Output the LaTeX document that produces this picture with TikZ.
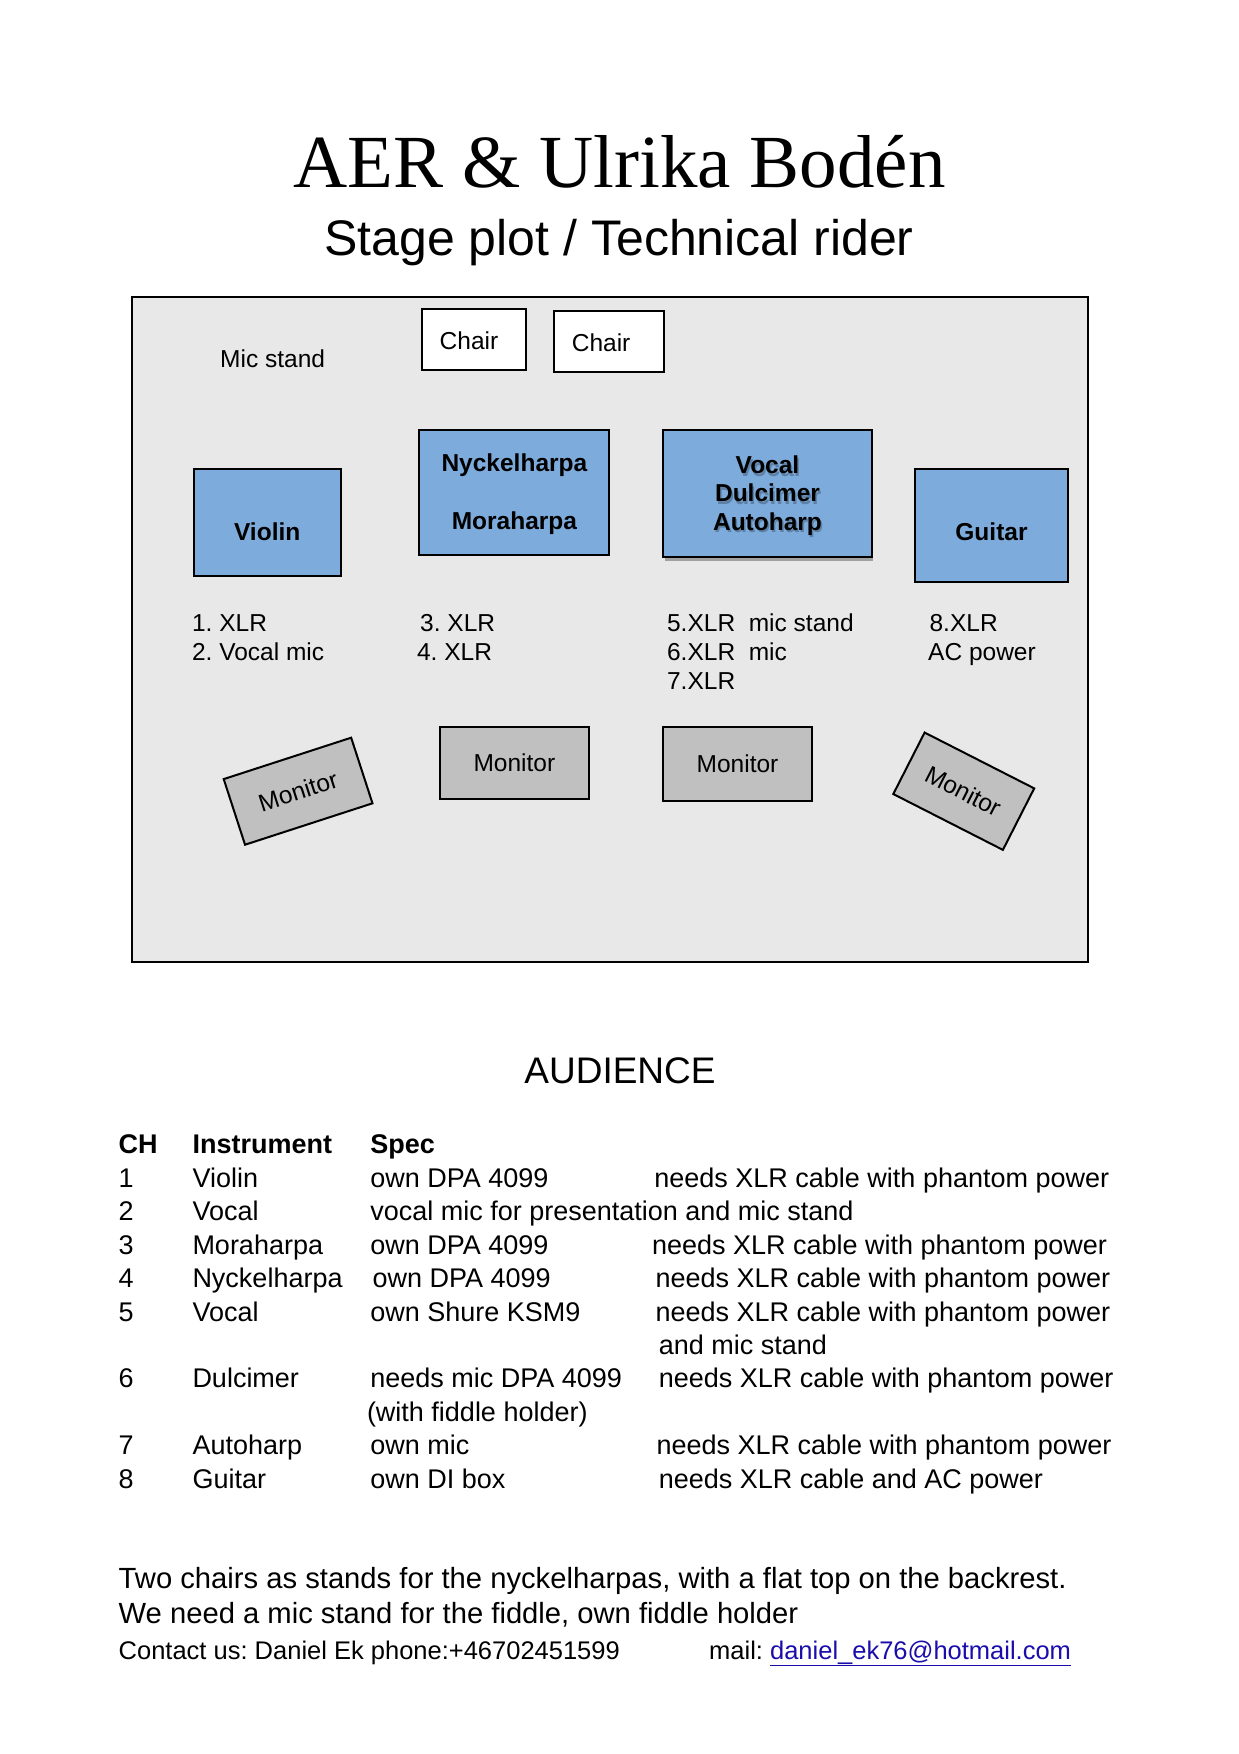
\documentclass[tikz,border=0pt]{standalone}
\usepackage{fontspec}
\setmainfont{Liberation Sans}
\newfontfamily\titlefont{Liberation Serif}
\usetikzlibrary{shadows}
\frenchspacing
\definecolor{stagegray}{RGB}{232,232,232}
\definecolor{mongray}{RGB}{192,192,192}
\definecolor{instblue}{RGB}{125,171,219}
\definecolor{linkblue}{RGB}{26,13,171}
\tikzset{
  txt/.style={inner sep=0pt, anchor=base west},
  ctxt/.style={inner sep=0pt, anchor=base},
  lbl/.style={txt, font=\fontsize{24.5}{29}\selectfont},
  blbl/.style={ctxt, font=\fontsize{24.5}{29}\selectfont\bfseries},
  tbl/.style={txt, font=\fontsize{27}{32}\selectfont},
  tblhead/.style={txt, font=\fontsize{27}{32}\selectfont\bfseries},
  foot/.style={txt, font=\fontsize{29.2}{34}\selectfont},
  contact/.style={txt, font=\fontsize{25.5}{30}\selectfont},
  box/.style={draw=black, line width=2pt, inner sep=0pt},
  chairbox/.style={box, fill=white},
  instbox/.style={box, fill=instblue},
  monbox/.style={box, fill=mongray, font=\fontsize{24.5}{29}\selectfont},
  tshadow/.style={ctxt, font=\fontsize{24.5}{29}\selectfont\bfseries, text=black, opacity=0.25},
}
\begin{document}
\begin{tikzpicture}[x=1pt,y=-1pt]
\path[use as bounding box, fill=white] (0,0) rectangle (1239,1754);

% titles
\node[ctxt, font=\titlefont\fontsize{75}{80}\selectfont] (title) at (619.5,187) {AER \& Ulrika Bodén};
\node[ctxt, font=\fontsize{50}{58}\selectfont] (subtitle) at (619,255) {Stage plot / Technical rider};

% stage
\node[box, fill=stagegray, minimum width=955.6pt, minimum height=665pt, anchor=north west] (stage) at (131.25,295.7) {};

% chairs and mic stand
\node[lbl] (micstand) at (220,367.3) {Mic stand};
\node[chairbox, minimum width=104pt, minimum height=61.3pt,
      label={[font=\fontsize{24.5}{29}\selectfont, xshift=-5pt, yshift=-1pt]center:Chair}] (chair1) at (474,339.4) {};
\node[chairbox, minimum width=109.4pt, minimum height=61pt,
      label={[font=\fontsize{24.5}{29}\selectfont, xshift=-8pt, yshift=-1pt]center:Chair}] (chair2) at (609.1,341.5) {};

% instrument boxes
\node[instbox, minimum width=146.9pt, minimum height=107pt] (violin) at (267.2,522.5) {};
\node[instbox, minimum width=190pt, minimum height=125.6pt] (nyckel) at (514.4,492.5) {};
\node[instbox, minimum width=208.9pt, minimum height=127.3pt,
      drop shadow={shadow xshift=1.5pt, shadow yshift=-4pt, fill=black, opacity=0.3}] (vocal) at (767.5,493.4) {};
\node[instbox, minimum width=153pt, minimum height=113.3pt] (guitar) at (991.5,525.7) {};

\node[blbl] (tviolin) at (267.2,540) {Violin};
\node[blbl] (tnyckel) at (514.4,471.7) {Nyckelharpa};
\node[blbl] (tmora) at (514.4,529.3) {Moraharpa};
\node[tshadow] (svocal) at (769,476) {Vocal};
\node[tshadow] (sdulc) at (769,504.4) {Dulcimer};
\node[tshadow] (sauto) at (769,532.7) {Autoharp};
\node[blbl] (tvocal) at (767.5,473.3) {Vocal};
\node[blbl] (tdulc) at (767.5,501.7) {Dulcimer};
\node[blbl] (tauto) at (767.5,530) {Autoharp};
\node[blbl] (tguitar) at (991.5,540) {Guitar};

% channel labels
\node[lbl] (l1) at (191.9,631.7) {1. XLR};
\node[lbl] (l2) at (191.9,660.5) {2. Vocal mic};
\node[lbl] (l3) at (420,631.7) {3. XLR};
\node[lbl] (l4) at (416.9,660.5) {4. XLR};
\node[lbl] (l5) at (666.9,631.7) {5.XLR\ \ mic stand};
\node[lbl] (l6) at (666.9,660.5) {6.XLR\ \ mic};
\node[lbl] (l7) at (666.9,689.3) {7.XLR};
\node[lbl] (l8) at (929.4,631.7) {8.XLR};
\node[lbl] (l9) at (928,660.5) {AC power};

% monitors
\node[monbox, minimum width=134pt, minimum height=69pt, rotate=18] (mon1) at (298.1,791.2) {Monitor};
\node[monbox, minimum width=148.75pt, minimum height=71.7pt] (mon2) at (514.4,763.2) {Monitor};
\node[monbox, minimum width=148.9pt, minimum height=73.7pt] (mon3) at (737.5,764.2) {Monitor};
\node[monbox, minimum width=123pt, minimum height=69pt, rotate=-27] (mon4) at (963.75,791.2) {Monitor};

% audience
\node[ctxt, font=\fontsize{37}{44}\selectfont] (audience) at (620,1083) {AUDIENCE};

% table
\node[tblhead] (hch) at (118.5,1153.3) {CH};
\node[tblhead] (hins) at (192.3,1153.3) {Instrument};
\node[tblhead] (hspec) at (370.1,1153.3) {Spec};

\node[tbl] (c1) at (118.5,1187) {1};
\node[tbl] (i1) at (192.3,1187) {Violin};
\node[tbl] (s1) at (370.1,1187) {own DPA 4099};
\node[tbl] (n1) at (654.2,1187) {needs XLR cable with phantom power};

\node[tbl] (c2) at (118.5,1220.5) {2};
\node[tbl] (i2) at (192.3,1220.5) {Vocal};
\node[tbl] (s2) at (370.1,1220.5) {vocal mic for presentation and mic stand};

\node[tbl] (c3) at (118.5,1254) {3};
\node[tbl] (i3) at (192.3,1254) {Moraharpa};
\node[tbl] (s3) at (370.1,1254) {own DPA 4099};
\node[tbl] (n3) at (651.9,1254) {needs XLR cable with phantom power};

\node[tbl] (c4) at (118.5,1287.5) {4};
\node[tbl] (i4) at (192.3,1287.5) {Nyckelharpa};
\node[tbl] (s4) at (372.4,1287.5) {own DPA 4099};
\node[tbl] (n4) at (655.3,1287.5) {needs XLR cable with phantom power};

\node[tbl] (c5) at (118.5,1321) {5};
\node[tbl] (i5) at (192.3,1321) {Vocal};
\node[tbl] (s5) at (370.1,1321) {own Shure KSM9};
\node[tbl] (n5) at (655.3,1321) {needs XLR cable with phantom power};
\node[tbl] (n5b) at (658.6,1354.5) {and mic stand};

\node[tbl] (c6) at (118.5,1387.5) {6};
\node[tbl] (i6) at (192.3,1387.5) {Dulcimer};
\node[tbl] (s6) at (370.1,1387.5) {needs mic DPA 4099};
\node[tbl] (s6b) at (366.8,1421) {(with fiddle holder)};
\node[tbl] (n6) at (658.6,1387.5) {needs XLR cable with phantom power};

\node[tbl] (c7) at (118.5,1454.5) {7};
\node[tbl] (i7) at (192.3,1454.5) {Autoharp};
\node[tbl] (s7) at (370.1,1454.5) {own mic};
\node[tbl] (n7) at (656.4,1454.5) {needs XLR cable with phantom power};

\node[tbl] (c8) at (118.5,1488) {8};
\node[tbl] (i8) at (192.3,1488) {Guitar};
\node[tbl] (s8) at (370.1,1488) {own DI box};
\node[tbl] (n8) at (658.6,1488) {needs XLR cable and AC power};

% footer
\node[foot] (f1) at (118.5,1588) {Two chairs as stands for the nyckelharpas, with a flat top on the backrest.};
\node[foot] (f2) at (118.5,1623) {We need a mic stand for the fiddle, own fiddle holder};
\node[contact] (f3) at (118.5,1659) {Contact us: Daniel Ek phone:+46702451599};
\node[contact] (f4) at (709,1659) {mail: \textcolor{linkblue}{\underline{daniel\_ek76@hotmail.com}}};
\end{tikzpicture}
\end{document}
